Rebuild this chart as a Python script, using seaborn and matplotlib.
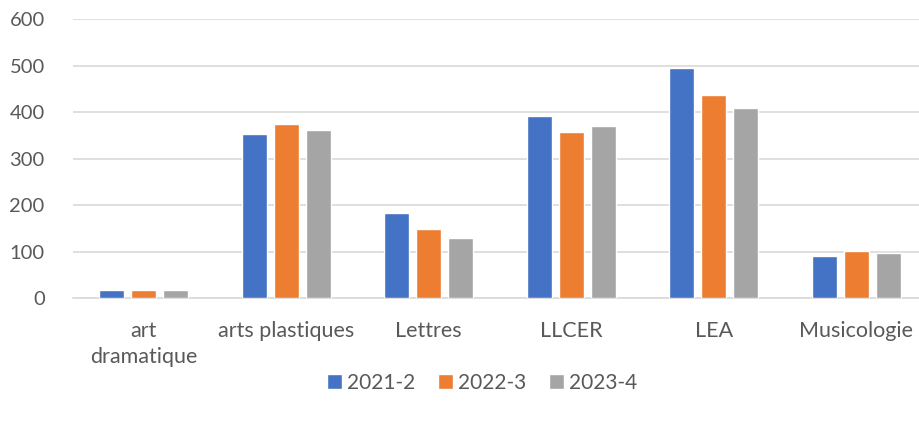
import matplotlib
matplotlib.use("Agg")
import matplotlib.pyplot as plt
import seaborn as sns
import pandas as pd
from matplotlib.patches import Patch

categories = ["art\ndramatique", "arts plastiques", "Lettres", "LLCER", "LEA", "Musicologie"]
series = ["2021-2", "2022-3", "2023-4"]
v2021 = [17, 353, 184, 391, 495, 91]
v2022 = [18, 374, 148, 358, 437, 102]
v2023 = [17, 363, 129, 371, 409, 98]
colors = ["#4472C4", "#ED7D31", "#A5A5A5"]
yticks = [0, 100, 200, 300, 400, 500, 600]

rows = []
for s, vals in zip(series, [v2021, v2022, v2023]):
    for c, v in zip(categories, vals):
        rows.append({"cat": c, "year": s, "val": v})
df = pd.DataFrame(rows)

sns.set_theme(style="white")
plt.rcParams["font.family"] = ["Lato", "DejaVu Sans"]

fig = plt.figure(figsize=(9.2, 4.21), dpi=100)
ax = fig.add_axes([72.5 / 920, 1 - 298.3 / 421, 855 / 920, 279 / 421])
sns.barplot(data=df, x="cat", y="val", hue="year", palette=colors, order=categories,
            hue_order=series, width=0.67, gap=0.21, saturation=1, legend=False, ax=ax, zorder=3)
ax.set_xlim(-0.5, 5.5)
ax.set_ylim(0, 600)
ax.set_yticks(yticks)
ax.yaxis.grid(True, color="#D9D9D9", linewidth=1.2, zorder=0)
ax.set_axisbelow(True)
for s in ["top", "right", "left"]:
    ax.spines[s].set_visible(False)
ax.spines["bottom"].set_color("#D9D9D9")
ax.spines["bottom"].set_linewidth(1.2)
ax.set_xlabel("")
ax.set_ylabel("")
ax.tick_params(axis="both", length=0, labelcolor="#595959")
ax.tick_params(axis="y", pad=20, labelsize=14.5)
ax.tick_params(axis="x", pad=16, labelsize=15.5)
for lab in ax.get_xticklabels():
    lab.set_linespacing(1.4)

handles = [Patch(facecolor=c, label=s) for c, s in zip(colors, series)]
fig.legend(handles=handles, loc="center", bbox_to_anchor=(482 / 920, 1 - 383 / 421), ncol=3,
           frameon=False, fontsize=15, handlelength=0.7, handleheight=0.7, handletextpad=0.25,
           columnspacing=1.1, labelcolor="#595959")
fig.savefig("out.png", dpi=100)
